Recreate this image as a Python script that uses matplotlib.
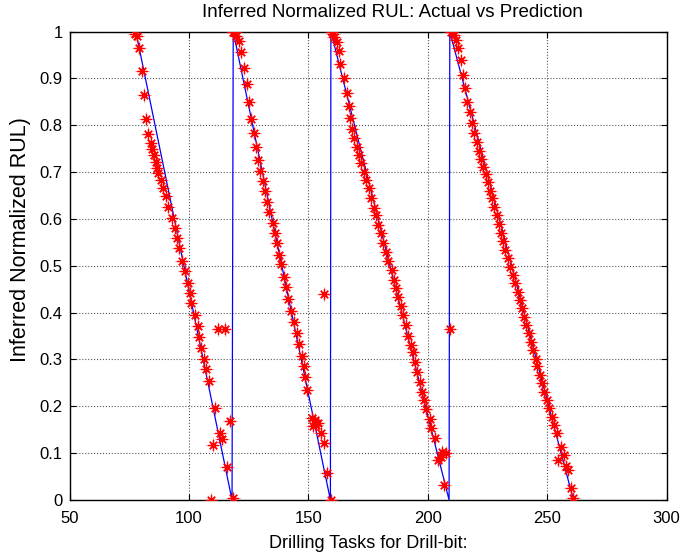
import matplotlib
matplotlib.use("Agg")
import matplotlib.pyplot as plt

plt.rcParams['font.family'] = ['Liberation Sans', 'DejaVu Sans']

title = "Inferred Normalized RUL: Actual vs Prediction"
xlabel = "Drilling Tasks for Drill-bit:"
ylabel = "Inferred Normalized RUL)"
xticks = [50, 100, 150, 200, 250, 300]
yticks = [0, 0.1, 0.2, 0.3, 0.4, 0.5, 0.6, 0.7, 0.8, 0.9, 1]
ytick_labels = ["0", "0.1", "0.2", "0.3", "0.4", "0.5", "0.6", "0.7", "0.8", "0.9", "1"]

# actual normalized RUL (blue line)
actual_x = [77.7, 118.0, 118.5, 159.2, 159.4, 208.9, 209.2, 261.0]
actual_y = [1.0, 0.0, 1.0, 0.0, 1.0, 0.0, 1.0, 0.0]

# predictions, drill-bit 1
pred1_x = [77.5, 78.2, 79.0, 80.1, 81.1, 81.8, 82.9, 84.0, 84.5, 85.3, 86.0, 86.6, 87.1, 88.2,
           89.2, 90.2, 91.2, 92.9, 94.1, 95.0, 95.9, 96.9, 98.2, 99.6, 100.3, 101.0, 102.4,
           103.6, 104.2, 105.2, 106.3, 107.0, 108.3, 110.8, 112.2, 115.0, 117.1, 112.9, 114.0,
           110.1, 116.0, 109.1, 118.2]
pred1_y = [0.995, 0.99, 0.964, 0.916, 0.864, 0.813, 0.781, 0.761, 0.749, 0.736, 0.722, 0.708,
           0.697, 0.683, 0.666, 0.648, 0.626, 0.603, 0.58, 0.56, 0.539, 0.51, 0.489, 0.464,
           0.441, 0.42, 0.395, 0.371, 0.347, 0.324, 0.30, 0.279, 0.255, 0.197, 0.365, 0.365,
           0.169, 0.144, 0.13, 0.117, 0.07, 0.0, 0.004]

# predictions, drill-bit 2
pred2_x = [118.6, 119.2, 119.6, 120.9, 121.7, 123.1, 124.2, 125.0, 125.8, 127.1, 128.0, 128.9,
           129.6, 130.8, 131.7, 132.7, 133.5, 135.0, 135.9, 136.9, 137.6, 138.7, 139.8, 140.8,
           141.5, 142.9, 144.0, 145.0, 146.0, 147.1, 148.1, 148.5, 149.5, 151.6, 152.6, 153.2,
           152.0, 153.9, 156.6, 155.2, 156.4, 157.6, 159.3]
pred2_y = [1.0, 0.998, 0.99, 0.98, 0.956, 0.923, 0.887, 0.849, 0.813, 0.783, 0.754, 0.726,
           0.702, 0.681, 0.66, 0.637, 0.615, 0.591, 0.569, 0.548, 0.524, 0.503, 0.477, 0.454,
           0.43, 0.403, 0.381, 0.357, 0.333, 0.307, 0.285, 0.262, 0.235, 0.175, 0.17, 0.16,
           0.158, 0.165, 0.439, 0.144, 0.122, 0.057, 0.0]

# predictions, drill-bit 3
pred3_x = [159.7, 160.3, 160.8, 161.8, 162.7, 163.4, 164.8, 166.0, 166.9, 167.3, 168.3, 169.1,
           170.4, 171.2, 171.9, 173.3, 174.3, 175.3, 176.4, 177.5, 178.5, 179.2, 180.3, 181.3,
           182.4, 183.4, 184.8, 185.9, 186.5, 187.6, 188.7, 189.7, 190.7, 191.5, 192.9, 193.6,
           194.6, 195.3, 196.6, 197.6, 198.5, 199.2, 200.8, 201.5, 202.9, 204.3, 205.4, 206.0,
           207.8, 206.8, 209.2]
pred3_y = [0.998, 0.995, 0.989, 0.978, 0.958, 0.93, 0.901, 0.868, 0.84, 0.815, 0.793, 0.772,
           0.754, 0.736, 0.719, 0.701, 0.683, 0.665, 0.644, 0.624, 0.608, 0.588, 0.569, 0.548,
           0.53, 0.51, 0.491, 0.47, 0.452, 0.434, 0.414, 0.395, 0.374, 0.35, 0.331, 0.317,
           0.295, 0.274, 0.252, 0.231, 0.213, 0.194, 0.172, 0.153, 0.132, 0.085, 0.092, 0.103,
           0.101, 0.032, 0.366]

# predictions, drill-bit 4
pred4_x = [209.9, 210.9, 212.0, 212.7, 213.7, 214.8, 215.5, 216.5, 217.6, 218.6, 219.4, 220.4,
           221.4, 222.2, 223.2, 224.3, 225.0, 226.0, 226.9, 227.8, 228.8, 229.7, 230.6, 231.5,
           232.5, 233.6, 234.6, 235.7, 236.7, 237.6, 238.5, 239.5, 240.3, 241.3, 242.3, 243.1,
           244.1, 245.1, 245.9, 246.9, 247.9, 248.7, 249.7, 250.7, 251.8, 252.8, 253.9, 255.6,
           257.0, 254.6, 257.8, 258.5, 259.8, 260.8]
pred4_y = [0.998, 0.993, 0.982, 0.964, 0.939, 0.907, 0.88, 0.85, 0.828, 0.804, 0.783, 0.765,
           0.745, 0.728, 0.711, 0.695, 0.679, 0.66, 0.644, 0.626, 0.608, 0.589, 0.571, 0.553,
           0.534, 0.516, 0.498, 0.48, 0.463, 0.445, 0.427, 0.409, 0.391, 0.374, 0.356, 0.338,
           0.32, 0.302, 0.285, 0.267, 0.249, 0.231, 0.213, 0.196, 0.178, 0.16, 0.142, 0.114,
           0.096, 0.085, 0.073, 0.064, 0.025, 0.005]

fig = plt.figure(figsize=(6.83, 5.57), dpi=100)
ax = fig.add_axes([0.102, 0.1023, 0.874, 0.8411])

ax.plot(actual_x, actual_y, color='#0000ff', linewidth=0.9, zorder=2)

for px, py in [(pred1_x, pred1_y), (pred2_x, pred2_y), (pred3_x, pred3_y), (pred4_x, pred4_y)]:
    ax.plot(px, py, linestyle='none', marker='+', markersize=10, color='red',
            markeredgewidth=0.8, alpha=0.5, zorder=3)
    ax.plot(px, py, linestyle='none', marker=(8, 2, 0), markersize=7.5, color='red',
            markeredgewidth=0.9, zorder=4)

ax.set_xlim(50, 300)
ax.set_ylim(0, 1)
ax.set_xticks(xticks)
ax.set_xticklabels([str(t) for t in xticks])
ax.set_yticks(yticks)
ax.set_yticklabels(ytick_labels)
ax.tick_params(direction='in', length=4, labelsize=12, top=True, right=True, width=0.8)
ax.tick_params(axis='x', pad=8)
ax.tick_params(axis='y', pad=5)
ax.grid(True, color='#555555', linestyle=':', linewidth=0.8)
ax.set_axisbelow(True)
for s in ax.spines.values():
    s.set_linewidth(1.0)

ax.text(0.54, 1.0416, title, transform=ax.transAxes, fontsize=13.5,
        ha='center', va='center')
ax.set_xlabel(xlabel, fontsize=13)
ax.xaxis.set_label_coords(0.50, -0.074)
ax.set_ylabel(ylabel, fontsize=15.5, va='center')
ax.yaxis.set_label_coords(-0.082, 0.555)

fig.savefig("out.png", dpi=100)
